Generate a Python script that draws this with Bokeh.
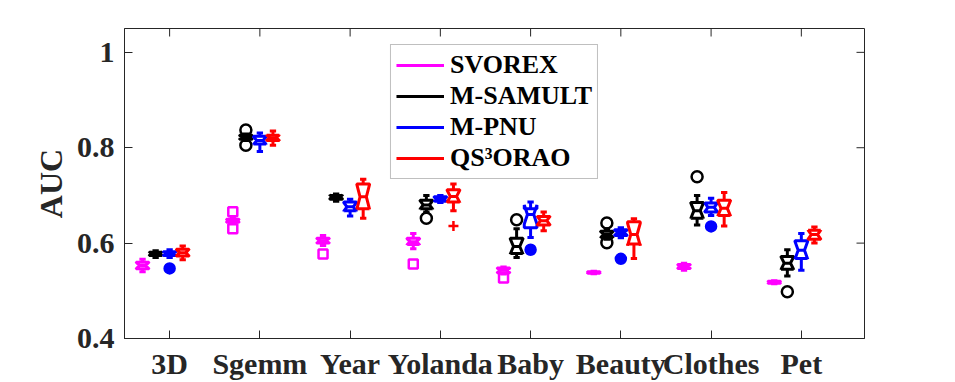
import numpy as np
from bokeh.plotting import figure
from bokeh.models import FixedTicker, Range1d, Legend, LegendItem
from bokeh.embed import file_html
from bokeh.resources import INLINE

categories = ["3D", "Sgemm", "Year", "Yolanda", "Baby", "Beauty", "Clothes", "Pet"]
series = ["SVOREX", "M-SAMULT", "M-PNU", "QS³ORAO"]
colors = ["#FF00FF", "#000000", "#0000FF", "#FF0000"]
offsets = [-0.30, -0.155, 0.0, 0.145]
y_ticks = [0.4, 0.6, 0.8, 1.0]
y_tick_labels = ["0.4", "0.6", "0.8", "1"]

# ---- SVOREX ----
svorex_wlo = [0.540, 0.642, 0.595, 0.588, 0.535, 0.536, 0.543, 0.515]
svorex_q1  = [0.546, 0.644, 0.600, 0.597, 0.538, 0.537, 0.547, 0.516]
svorex_med = [0.553, 0.647, 0.605, 0.603, 0.543, 0.538, 0.551, 0.518]
svorex_q3  = [0.560, 0.650, 0.610, 0.610, 0.548, 0.540, 0.555, 0.520]
svorex_whi = [0.566, 0.652, 0.616, 0.620, 0.550, 0.541, 0.558, 0.521]
svorex_out_cat = [1, 1, 2, 3, 4]
svorex_out_val = [0.666, 0.630, 0.577, 0.556, 0.527]

# ---- M-SAMULT ----
msamult_wlo = [0.570, 0.815, 0.688, 0.665, 0.570, 0.608, 0.638, 0.531]
msamult_q1  = [0.574, 0.818, 0.692, 0.672, 0.578, 0.612, 0.652, 0.545]
msamult_med = [0.578, 0.822, 0.697, 0.680, 0.593, 0.618, 0.668, 0.558]
msamult_q3  = [0.581, 0.826, 0.700, 0.690, 0.610, 0.625, 0.685, 0.572]
msamult_whi = [0.584, 0.829, 0.703, 0.700, 0.630, 0.630, 0.700, 0.586]
msamult_out_cat = [1, 1, 3, 4, 5, 5, 6, 7]
msamult_out_val = [0.837, 0.805, 0.652, 0.649, 0.642, 0.601, 0.739, 0.498]

# ---- M-PNU ----
mpnu_wlo = [0.570, 0.792, 0.657, 0.685, 0.612, 0.611, 0.658, 0.543]
mpnu_q1  = [0.574, 0.808, 0.668, 0.688, 0.632, 0.616, 0.665, 0.568]
mpnu_med = [0.578, 0.815, 0.676, 0.692, 0.660, 0.622, 0.675, 0.585]
mpnu_q3  = [0.582, 0.824, 0.686, 0.697, 0.672, 0.628, 0.684, 0.605]
mpnu_whi = [0.586, 0.831, 0.692, 0.700, 0.686, 0.632, 0.694, 0.620]
mpnu_out_cat = [0, 4, 5, 6]
mpnu_out_val = [0.547, 0.586, 0.567, 0.635]

# ---- QS3ORAO ----
qs_wlo = [0.565, 0.805, 0.652, 0.668, 0.626, 0.568, 0.636, 0.600]
qs_q1  = [0.573, 0.815, 0.672, 0.686, 0.638, 0.598, 0.658, 0.608]
qs_med = [0.580, 0.821, 0.697, 0.698, 0.647, 0.618, 0.673, 0.618]
qs_q3  = [0.587, 0.826, 0.724, 0.712, 0.656, 0.645, 0.690, 0.627]
qs_whi = [0.594, 0.835, 0.734, 0.724, 0.665, 0.651, 0.706, 0.634]
qs_out_cat = [3]
qs_out_val = [0.636]

stats = [
    (svorex_wlo, svorex_q1, svorex_med, svorex_q3, svorex_whi, svorex_out_cat, svorex_out_val),
    (msamult_wlo, msamult_q1, msamult_med, msamult_q3, msamult_whi, msamult_out_cat, msamult_out_val),
    (mpnu_wlo, mpnu_q1, mpnu_med, mpnu_q3, mpnu_whi, mpnu_out_cat, mpnu_out_val),
    (qs_wlo, qs_q1, qs_med, qs_q3, qs_whi, qs_out_cat, qs_out_val),
]
out_markers = [
    dict(marker="square", size=9, fill_color=None),
    dict(marker="circle", size=11, fill_color=None),
    dict(marker="circle", size=10, fill_color="#0000FF"),
    dict(marker="cross", size=10, fill_color=None),
]

N_SAMPLES = 10
W = 0.14
LW = 3

FONT = "Liberation Serif"
AX = "#262626"

p = figure(width=955, height=382, x_range=Range1d(0.5, 8.7), y_range=Range1d(0.4, 1.05),
           output_backend="svg", toolbar_location=None,
           min_border_left=124, min_border_right=91, min_border_top=28, min_border_bottom=43)
p.grid.visible = False
p.outline_line_color = AX
p.outline_line_width = 1
p.background_fill_color = "white"
p.border_fill_color = "white"

legend_items = []
for si, (wlo, q1, med, q3, whi, ocat, oval) in enumerate(stats):
    c = colors[si]
    xs_c = [i + 1 + offsets[si] for i in range(len(categories))]
    wlo = np.array(wlo); q1 = np.array(q1); med = np.array(med)
    q3 = np.array(q3); whi = np.array(whi)
    half_notch = 1.57 * (q3 - q1) / np.sqrt(N_SAMPLES)
    nlo = med - half_notch
    nhi = med + half_notch
    pxs, pys = [], []
    for k, x in enumerate(xs_c):
        pxs.append([x - W / 2, x - W / 2, x - W / 4, x - W / 2, x - W / 2,
                    x + W / 2, x + W / 2, x + W / 4, x + W / 2, x + W / 2])
        pys.append([q1[k], nlo[k], med[k], nhi[k], q3[k],
                    q3[k], nhi[k], med[k], nlo[k], q1[k]])
    p.patches(pxs, pys, fill_color=None, line_color=c, line_width=LW)
    xs_arr = np.array(xs_c)
    # whiskers
    wr = p.segment(x0=np.concatenate([xs_arr, xs_arr]), y0=np.concatenate([q3, q1]),
                   x1=np.concatenate([xs_arr, xs_arr]), y1=np.concatenate([whi, wlo]),
                   line_color=c, line_width=LW)
    # caps
    p.segment(x0=np.concatenate([xs_arr - W / 4, xs_arr - W / 4]), y0=np.concatenate([whi, wlo]),
              x1=np.concatenate([xs_arr + W / 4, xs_arr + W / 4]), y1=np.concatenate([whi, wlo]),
              line_color=c, line_width=LW)
    # medians
    p.segment(x0=xs_arr - W / 4, y0=med, x1=xs_arr + W / 4, y1=med, line_color=c, line_width=LW)
    # outliers
    ox = [ci + 1 + offsets[si] for ci in ocat]
    mk = out_markers[si]
    p.scatter(ox, oval, marker=mk["marker"], size=mk["size"], line_color=c,
              fill_color=mk["fill_color"], line_width=2.5)
    legend_items.append(LegendItem(label=series[si], renderers=[wr]))

legend = Legend(items=legend_items, location="top_center", margin=16,
                label_text_font=FONT, label_text_font_style="bold", label_text_font_size="26px",
                label_text_color="black", glyph_width=48, glyph_height=30, label_height=30,
                label_standoff=6, padding=5, spacing=1,
                border_line_color="#7f7f7f", border_line_width=1,
                background_fill_color="white", background_fill_alpha=1.0)
p.add_layout(legend)

cat_pos = [i + 1 for i in range(len(categories))]

def style_axis(ax):
    ax.axis_line_color = AX
    ax.axis_line_width = 1
    ax.major_tick_line_color = AX
    ax.major_tick_in = 8
    ax.major_tick_out = 0
    ax.minor_tick_line_color = None
    ax.major_label_text_font = FONT
    ax.major_label_text_font_style = "bold"
    ax.major_label_text_font_size = "30px"
    ax.major_label_text_color = AX

xa = p.xaxis[0]
xa.ticker = FixedTicker(ticks=cat_pos)
xa.major_label_overrides = {pos: name for pos, name in zip(cat_pos, categories)}
style_axis(xa)
xa.major_label_standoff = 8

ya = p.yaxis[0]
ya.ticker = FixedTicker(ticks=y_ticks)
ya.major_label_overrides = {t: s for t, s in zip(y_ticks, y_tick_labels)}
style_axis(ya)
ya.major_label_standoff = 10
ya.axis_label = "AUC"
ya.axis_label_text_font = FONT
ya.axis_label_text_font_style = "bold"
ya.axis_label_text_font_size = "32px"
ya.axis_label_text_color = AX
ya.axis_label_standoff = 5

# mirrored inward ticks on the top and right edges (half of each dash is clipped by the frame)
p.scatter(x=cat_pos, y=[p.y_range.end] * len(cat_pos), marker="dash", angle=np.pi / 2,
          size=16, line_color=AX, line_width=1)
p.scatter(x=[p.x_range.end] * len(y_ticks), y=y_ticks, marker="dash",
          size=16, line_color=AX, line_width=1)

open("out.html", "w").write(file_html(p, INLINE))
